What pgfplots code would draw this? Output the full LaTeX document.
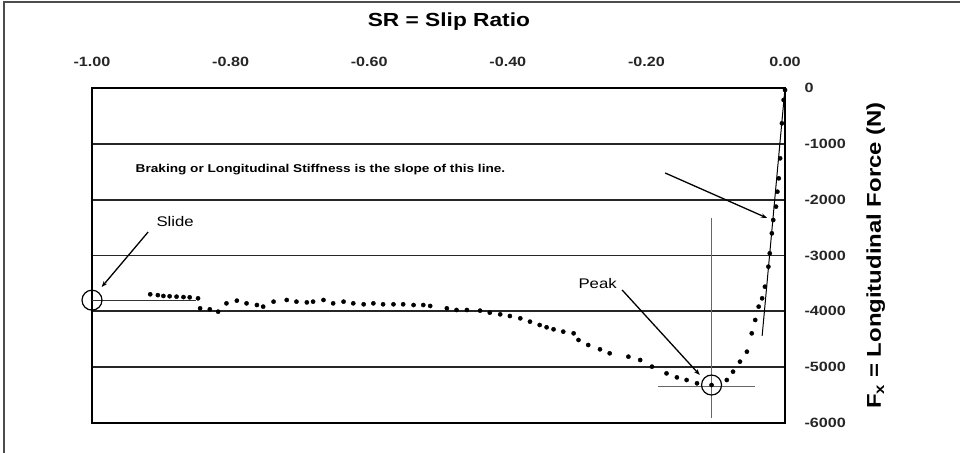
\documentclass[border=0pt]{standalone}
\usepackage{fontspec}
\setmainfont{Liberation Sans}[FakeStretch=1.2]
\usepackage{pgfplots}
\pgfplotsset{compat=1.18}
\usetikzlibrary{arrows.meta}

% slip ratio vs longitudinal force
\pgfplotstableread{
sr      fx
-0.916  -3695
-0.905  -3710
-0.897  -3725
-0.888  -3730
-0.878  -3737
-0.868  -3745
-0.859  -3749
-0.847  -3767
-0.844  -3946
-0.830  -3964
-0.818  -4006
-0.806  -3857
-0.791  -3809
-0.777  -3857
-0.762  -3887
-0.753  -3916
-0.738  -3827
-0.719  -3797
-0.705  -3827
-0.690  -3840
-0.681  -3827
-0.666  -3797
-0.652  -3857
-0.637  -3827
-0.623  -3857
-0.608  -3874
-0.594  -3857
-0.580  -3874
-0.565  -3874
-0.551  -3874
-0.536  -3887
-0.522  -3887
-0.512  -3904
-0.488  -3946
-0.474  -3976
-0.459  -3976
-0.440  -3988
-0.426  -4024
-0.411  -4054
-0.397  -4084
-0.382  -4125
-0.368  -4185
-0.354  -4245
-0.344  -4286
-0.334  -4322
-0.320  -4364
-0.305  -4394
-0.298  -4513
-0.284  -4603
-0.267  -4680
-0.253  -4752
-0.226  -4812
-0.209  -4872
-0.192  -4991
-0.171  -5111
-0.156  -5183
-0.142  -5230
-0.127  -5289
-0.106  -5320
-0.084  -5230
-0.075  -5081
-0.065  -4902
-0.055  -4723
-0.048  -4394
-0.043  -4155
-0.038  -3916
-0.033  -3767
-0.029  -3559
-0.024  -3200
-0.022  -2961
-0.019  -2603
-0.017  -2364
-0.013  -2125
-0.011  -1857
-0.009  -1618
-0.007  -1260
-0.0045 -633
-0.002  -215
0.000   -36
}\fxdata

\begin{document}
\begin{tikzpicture}[x=1bp,y=1bp]
\useasboundingbox (0,0) rectangle (960,453);
\draw[black!70, line width=1.2bp] (4,0) -- (4,451) -- (960,451);
\begin{axis}[
    at={(92bp,30bp)}, anchor=south west,
    width=693bp, height=335bp, scale only axis,
    xmin=-1, xmax=0, ymin=-6000, ymax=0,
    axis line style={line width=2bp},
    xtick={-1,-0.8,-0.6,-0.4,-0.2,0},
    xticklabels={-1.00,-0.80,-0.60,-0.40,-0.20,0.00},
    ytick={-6000,-5000,-4000,-3000,-2000,-1000,0},
    yticklabels={-6000,-5000,-4000,-3000,-2000,-1000,0},
    xticklabel pos=top, yticklabel pos=right,
    major tick length=0pt,
    xticklabel shift=18bp, yticklabel shift=16bp,
    tick label style={font=\bfseries\fontsize{13.5}{14}\selectfont, black!85},
    ymajorgrids, grid style={black!85, line width=1.7bp},
    title={SR = Slip Ratio},
    title style={at={(axis description cs:0.515,1.179)}, anchor=center,
        font=\bfseries\fontsize{19}{20}\selectfont},
    ylabel={F\textsubscript{x} = Longitudinal Force (N)},
    ylabel style={at={(axis description cs:1.131,0.5)}, anchor=center,
        font=\bfseries\fontsize{20}{21}\selectfont},
    clip=false
]
% stiffness line and peak crosshair
\addplot[black, line width=1bp] coordinates {(0,0) (-0.033,-4440)};
\addplot[black!60, line width=0.8bp] coordinates {(-0.106,-2328) (-0.106,-5910)};
\addplot[black!60, line width=0.8bp] coordinates {(-0.183,-5340) (-0.043,-5340)};
\addplot[black!80, line width=0.8bp] coordinates {(-1,-3800) (-0.85,-3800)};

\addplot[only marks, mark=*, mark size=2.1bp, black] table[x=sr, y=fx] {\fxdata};

\draw[line width=1.2bp] (axis cs:-1,-3800) circle[radius=10bp];
\draw[line width=1.2bp] (axis cs:-0.106,-5320) circle[radius=10bp];

\node[anchor=west, font=\bfseries\fontsize{11.4}{12}\selectfont]
    at (axis cs:-0.942,-1469) {Braking or Longitudinal Stiffness is the slope of this line.};
\draw[-{Stealth[length=6bp]}, line width=1.3bp] (axis cs:-0.173,-1522) -- (axis cs:-0.026,-2328);

\node[anchor=west, font=\fontsize{14}{15}\selectfont] at (axis cs:-0.912,-2400) {Slide};
\draw[-{Stealth[length=6bp]}, line width=1.3bp] (axis cs:-0.919,-2579) -- (axis cs:-0.986,-3564);

\node[anchor=west, font=\fontsize{14}{15}\selectfont] at (axis cs:-0.303,-3493) {Peak};
\draw[-{Stealth[length=6bp]}, line width=1.3bp] (axis cs:-0.235,-3618) -- (axis cs:-0.123,-5140);
\end{axis}
\end{tikzpicture}
\end{document}
